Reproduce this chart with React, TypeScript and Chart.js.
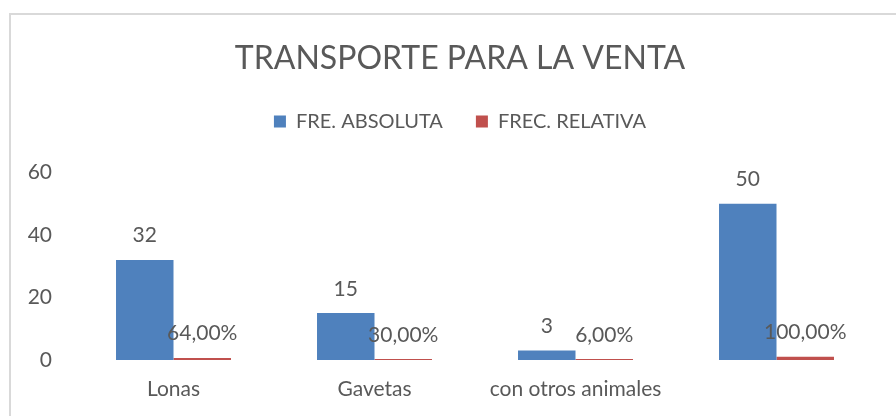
import React, { useEffect, useRef } from "react";
import { Chart, registerables } from "chart.js";

Chart.register(...registerables);

const categories = ["Lonas", "Gavetas", "con otros animales", ""];
const absoluta = [32, 15, 3, 50];
const relativa = [0.64, 0.3, 0.06, 1.0];
const absolutaLabels = ["32", "15", "3", "50"];
const relativaLabels = ["64,00%", "30,00%", "6,00%", "100,00%"];
const yTicks = [0, 20, 40, 60];

const FONT = "Lato, 'Open Sans', sans-serif";
const TEXT = "#595959";

const legendGap = {
  id: "legendGap",
  beforeInit(chart: any) {
    const orig = chart.legend.fit;
    chart.legend.fit = function () {
      orig.bind(chart.legend)();
      this.height += 31;
    };
  },
};

const yLabels = {
  id: "yLabels",
  afterDraw(chart: any) {
    const ctx = chart.ctx;
    const y = chart.scales.y;
    ctx.save();
    ctx.fillStyle = TEXT;
    ctx.font = `21px ${FONT}`;
    ctx.textAlign = "right";
    ctx.textBaseline = "middle";
    yTicks.forEach((v) => {
      ctx.fillText(String(v), y.right - 21, y.getPixelForValue(v));
    });
    ctx.restore();
  },
};

const dataLabels = {
  id: "dataLabels",
  afterDatasetsDraw(chart: any) {
    const ctx = chart.ctx;
    const texts = [absolutaLabels, relativaLabels];
    ctx.save();
    ctx.fillStyle = TEXT;
    ctx.font = `21px ${FONT}`;
    ctx.textAlign = "center";
    ctx.textBaseline = "alphabetic";
    chart.data.datasets.forEach((_ds: any, di: number) => {
      const meta = chart.getDatasetMeta(di);
      meta.data.forEach((bar: any, i: number) => {
        ctx.fillText(texts[di][i], bar.x, bar.y - 17.5);
      });
    });
    ctx.restore();
  },
};

export default function App() {
  const ref = useRef<HTMLCanvasElement>(null);
  useEffect(() => {
    if (!ref.current) return;
    const chart = new Chart(ref.current, {
      type: "bar",
      data: {
        labels: categories,
        datasets: [
          {
            label: "FRE. ABSOLUTA",
            data: absoluta,
            backgroundColor: "#4F81BD",
            barPercentage: 1,
            categoryPercentage: 0.572,
          },
          {
            label: "FREC. RELATIVA",
            data: relativa,
            backgroundColor: "#C0504D",
            barPercentage: 1,
            categoryPercentage: 0.572,
            minBarLength: 1,
          },
        ],
      },
      options: {
        responsive: false,
        animation: false,
        layout: { padding: { top: 20, left: 43, right: 19, bottom: 15 } },
        plugins: {
          title: {
            display: true,
            text: "TRANSPORTE PARA LA VENTA",
            color: TEXT,
            font: { family: FONT, size: 32, weight: "normal" },
            padding: { top: 19, bottom: 1 },
          },
          legend: {
            display: true,
            position: "top",
            labels: {
              color: TEXT,
              font: { family: FONT, size: 20 },
              boxWidth: 12,
              boxHeight: 12,
              padding: 33,
            },
          },
          tooltip: { enabled: false },
        },
        scales: {
          x: {
            afterFit(scale: any) {
              scale.height = 41;
            },
            grid: { display: false, drawTicks: false },
            border: { display: false },
            ticks: {
              color: TEXT,
              font: { family: FONT, size: 21 },
              padding: 17,
              maxRotation: 0,
            },
          },
          y: {
            min: 0,
            max: 60,
            afterFit(scale: any) {
              scale.width = 30;
            },
            afterBuildTicks(scale: any) {
              scale.ticks = yTicks.map((v) => ({ value: v }));
            },
            grid: { display: false, drawTicks: false },
            border: { display: false },
            ticks: { display: false },
          },
        },
      },
      plugins: [legendGap, dataLabels, yLabels],
    });
    return () => chart.destroy();
  }, []);

  return (
    <div
      style={{
        position: "fixed",
        left: 0,
        top: 0,
        width: 896,
        height: 416,
        overflow: "hidden",
        background: "#fff",
      }}
    >
      <div
        style={{
          position: "absolute",
          left: 9,
          top: 13,
          width: 1000,
          height: 600,
          border: "2px solid #d9d9d9",
          boxSizing: "border-box",
        }}
      />
      <canvas
        ref={ref}
        width={896}
        height={416}
        style={{ position: "absolute", left: 0, top: 0, width: 896, height: 416 }}
      />
    </div>
  );
}
